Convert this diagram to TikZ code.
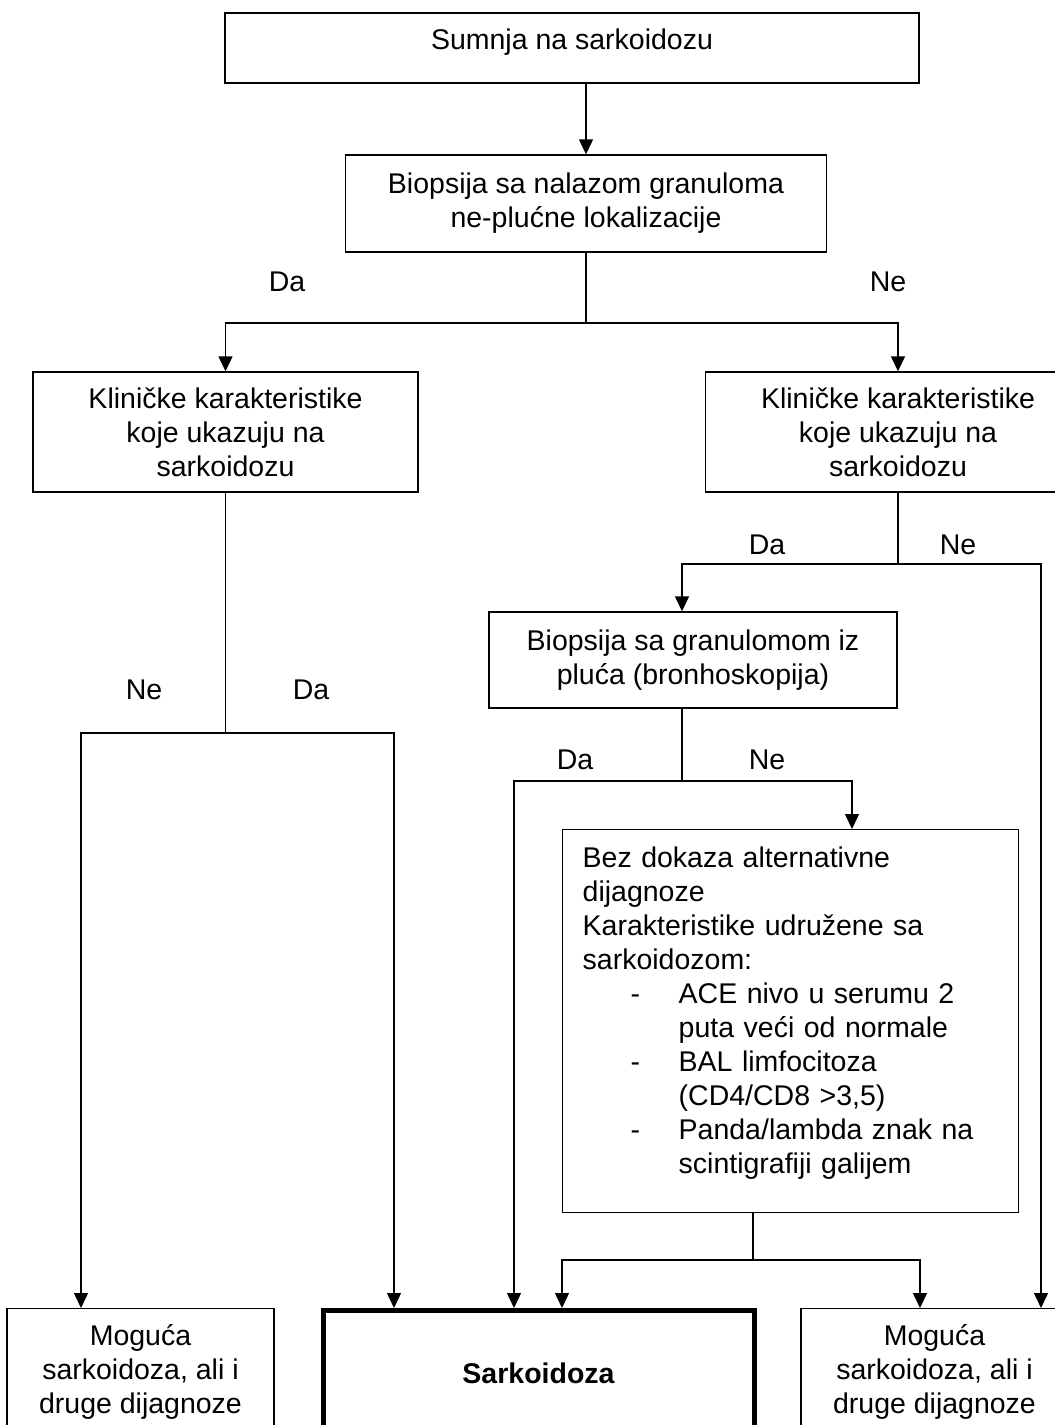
\documentclass[tikz,border=0pt]{standalone}
\usepackage{fontspec}
\setmainfont{Liberation Sans}
\usepackage{tikz}
\usetikzlibrary{arrows.meta}
\newcommand\chartfont{\fontsize{28.5}{34}\selectfont}
\tikzset{
  flowarrow/.style={-{Triangle[length=15pt,width=14pt]}, line width=1.4pt},
  link/.style={line width=1.4pt},
  qbox/.style={draw, line width=1.4pt, inner sep=0pt, align=center},
  finalbox/.style={draw, line width=5pt, inner sep=0pt, align=center, font=\chartfont\bfseries},
  answer/.style={inner sep=0pt}
}

\begin{document}
\begin{tikzpicture}[x=1pt, y=-1pt, every node/.style={font=\chartfont}]
  \useasboundingbox (0,0) rectangle (1055,1425);
  \clip (0,0) rectangle (1055,1425);

  \node[qbox, minimum width=694pt, minimum height=70pt, text depth=17pt] (suspect) at (572,48) {Sumnja na sarkoidozu};
  \node[qbox, minimum width=481pt, minimum height=97pt] (biopsy) at (586,203.5) {Biopsija sa nalazom granuloma\\ne-plućne lokalizacije};
  \node[qbox, minimum width=385pt, minimum height=120pt] (clinLeft) at (225.5,432) {Kliničke karakteristike\\koje ukazuju na\\sarkoidozu};
  \node[qbox, minimum width=385pt, minimum height=120pt] (clinRight) at (898,432) {Kliničke karakteristike\\koje ukazuju na\\sarkoidozu};
  \node[qbox, minimum width=408pt, minimum height=96pt] (lungBiopsy) at (693,660) {Biopsija sa granulomom iz\\pluća (bronhoskopija)};
  \node[qbox, anchor=north west, text width=416pt, align=left, inner xsep=20pt, inner ysep=17pt, text depth=328pt] (criteria) at (562,829) {Bez dokaza alternativne\\
    dijagnoze\\
    Karakteristike udružene sa\\
    sarkoidozom:\\
    \hspace*{48pt}\makebox[48pt][l]{-}ACE nivo u serumu 2\\
    \hspace*{96pt}puta veći od normale\\
    \hspace*{48pt}\makebox[48pt][l]{-}BAL limfocitoza\\
    \hspace*{96pt}(CD4/CD8 >3,5)\\
    \hspace*{48pt}\makebox[48pt][l]{-}Panda/lambda znak na\\
    \hspace*{96pt}scintigrafiji galijem};
  \node[qbox, minimum width=267pt, minimum height=126pt, anchor=north] (possibleLeft) at (140.5,1308) {Moguća\\sarkoidoza, ali i\\druge dijagnoze};
  \node[finalbox, minimum width=431pt, minimum height=126pt, anchor=north] (sarcoid) at (538.5,1308) {Sarkoidoza};
  \node[qbox, minimum width=267pt, minimum height=126pt, anchor=north] (possibleRight) at (934.5,1308) {Moguća\\sarkoidoza, ali i\\druge dijagnoze};

  % answers
  \node[answer] (yes1) at (287,282) {Da};
  \node[answer] (no1) at (888,282) {Ne};
  \node[answer] (no2) at (144,690) {Ne};
  \node[answer] (yes2) at (311,690) {Da};
  \node[answer] (yes3) at (767,545) {Da};
  \node[answer] (no3) at (958,545) {Ne};
  \node[answer] (yes4) at (575,760) {Da};
  \node[answer] (no4) at (767,760) {Ne};

  % branch points
  \coordinate (split1) at (586,323);
  \coordinate (split2) at (225.5,733);
  \coordinate (turnNe2) at (81,733);
  \coordinate (turnDa2) at (394,733);
  \coordinate (split3) at (898,564);
  \coordinate (turnDa3) at (682,564);
  \coordinate (turnNe3) at (1041,564);
  \coordinate (split4) at (682,781);
  \coordinate (turnDa4) at (514,781);
  \coordinate (turnNe4) at (852,781);
  \coordinate (split5) at (753,1260);
  \coordinate (turnL5) at (562,1260);
  \coordinate (turnR5) at (920,1260);

  \draw[flowarrow] (biopsy.north |- suspect.south) -- (biopsy);
  \draw[link] (biopsy) -- (split1);
  \draw[flowarrow] (split1) -| (clinLeft);
  \draw[flowarrow] (split1) -| (clinRight);

  \draw[link] (clinLeft) -- (split2);
  \draw[flowarrow] (split2) -- (turnNe2) -- (turnNe2 |- possibleLeft.north);
  \draw[flowarrow] (split2) -- (turnDa2) -- (turnDa2 |- sarcoid.north);

  \draw[link] (clinRight) -- (split3);
  \draw[flowarrow] (split3) -- (turnDa3) -- (turnDa3 |- lungBiopsy.north);
  \draw[flowarrow] (split3) -- (turnNe3) -- (turnNe3 |- possibleRight.north);

  \draw[link] (split4 |- lungBiopsy.south) -- (split4);
  \draw[flowarrow] (split4) -- (turnDa4) -- (turnDa4 |- sarcoid.north);
  \draw[flowarrow] (split4) -- (turnNe4) -- (turnNe4 |- criteria.north);

  \draw[link] (split5 |- criteria.south) -- (split5);
  \draw[flowarrow] (split5) -- (turnL5) -- (turnL5 |- sarcoid.north);
  \draw[flowarrow] (split5) -- (turnR5) -- (turnR5 |- possibleRight.north);
\end{tikzpicture}
\end{document}
